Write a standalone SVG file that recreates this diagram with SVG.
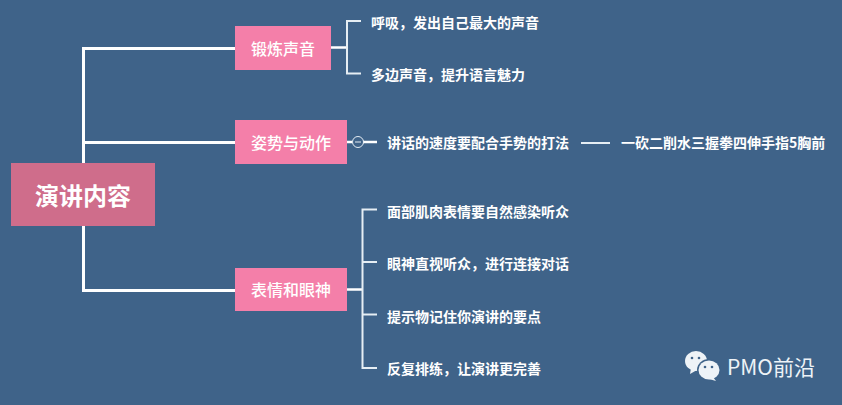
<svg xmlns="http://www.w3.org/2000/svg" width="842" height="405" viewBox="0 0 842 405">
<style>
text{font-family:"Noto Sans CJK SC","Liberation Sans",sans-serif;fill:#fff}
.root{font-size:24px;font-weight:700;text-anchor:middle}
.mid{font-size:16px;font-weight:500;text-anchor:middle}
.leaf{font-size:14px;font-weight:700}
.main{fill:none;stroke:#fff;stroke-width:3}
.sub{fill:none;stroke:#e6eef4;stroke-width:2}
.stem{fill:none;stroke:#fff;stroke-width:2.5}
.thin{fill:none;stroke:#e6eef4;stroke-width:1}
</style>
<rect width="842" height="405" fill="#3f6389"/>
<g id="connectors">
<path class="main" d="M83.500 163V48.500H235M83.500 142.500H235M83.500 226V290.500H235"/>
<path class="stem" d="M330 47.500H346M347 142H352M363 142H377M347 289.500H362"/>
<path class="sub" d="M361 21H347V73.500H361M377 209.500H362.500V368H377M362.500 262H377M362.500 314.500H377M581 143H610"/>
<circle class="thin" cx="358" cy="142" r="5.500"/>
<path class="thin" d="M355 142H361"/>
</g>
<g id="root"><rect x="11" y="163" width="144" height="63" fill="#cf6d8b"/><text class="root" x="83" y="205">演讲内容</text></g>
<g id="n1"><rect x="235" y="26" width="96" height="44" fill="#f47fa9"/><text class="mid" x="283" y="55">锻炼声音</text></g>
<g id="n2"><rect x="235" y="120" width="112" height="44" fill="#f47fa9"/><text class="mid" x="291" y="149">姿势与动作</text></g>
<g id="n3"><rect x="235" y="268" width="112" height="43" fill="#f47fa9"/><text class="mid" x="291" y="296">表情和眼神</text></g>
<g id="l1"><text class="leaf" x="371" y="28">呼吸，发出自己最大的声音</text></g>
<g id="l2"><text class="leaf" x="371" y="80">多边声音，提升语言魅力</text></g>
<g id="l3"><text class="leaf" x="387" y="148">讲话的速度要配合手势的打法</text></g>
<g id="l4"><text class="leaf" x="621" y="148">一砍二削水三握拳四伸手指5胸前</text></g>
<g id="l5"><text class="leaf" x="387" y="217">面部肌肉表情要自然感染听众</text></g>
<g id="l6"><text class="leaf" x="387" y="269">眼神直视听众，进行连接对话</text></g>
<g id="l7"><text class="leaf" x="387" y="322">提示物记住你演讲的要点</text></g>
<g id="l8"><text class="leaf" x="387" y="374">反复排练，让演讲更完善</text></g>
<g id="watermark">
<ellipse cx="696" cy="361" rx="11" ry="10" fill="#eef3f7"/>
<path d="M691 368l-1 6 7-4z" fill="#eef3f7"/>
<ellipse cx="709" cy="370" rx="12" ry="11" fill="#3f6389"/>
<ellipse cx="709" cy="370" rx="10.500" ry="9.500" fill="#eef3f7"/>
<path d="M713 377l3 4-7-2z" fill="#eef3f7"/>
<circle cx="692" cy="358" r="1.300" fill="#3f6389"/><circle cx="699" cy="358" r="1.300" fill="#3f6389"/>
<circle cx="705" cy="367" r="1.300" fill="#3f6389"/><circle cx="712" cy="367" r="1.300" fill="#3f6389"/>
<text x="727" y="374.500" font-size="21" style="fill:#eef3f7;font-weight:400">PMO前沿</text>
</g>
</svg>
